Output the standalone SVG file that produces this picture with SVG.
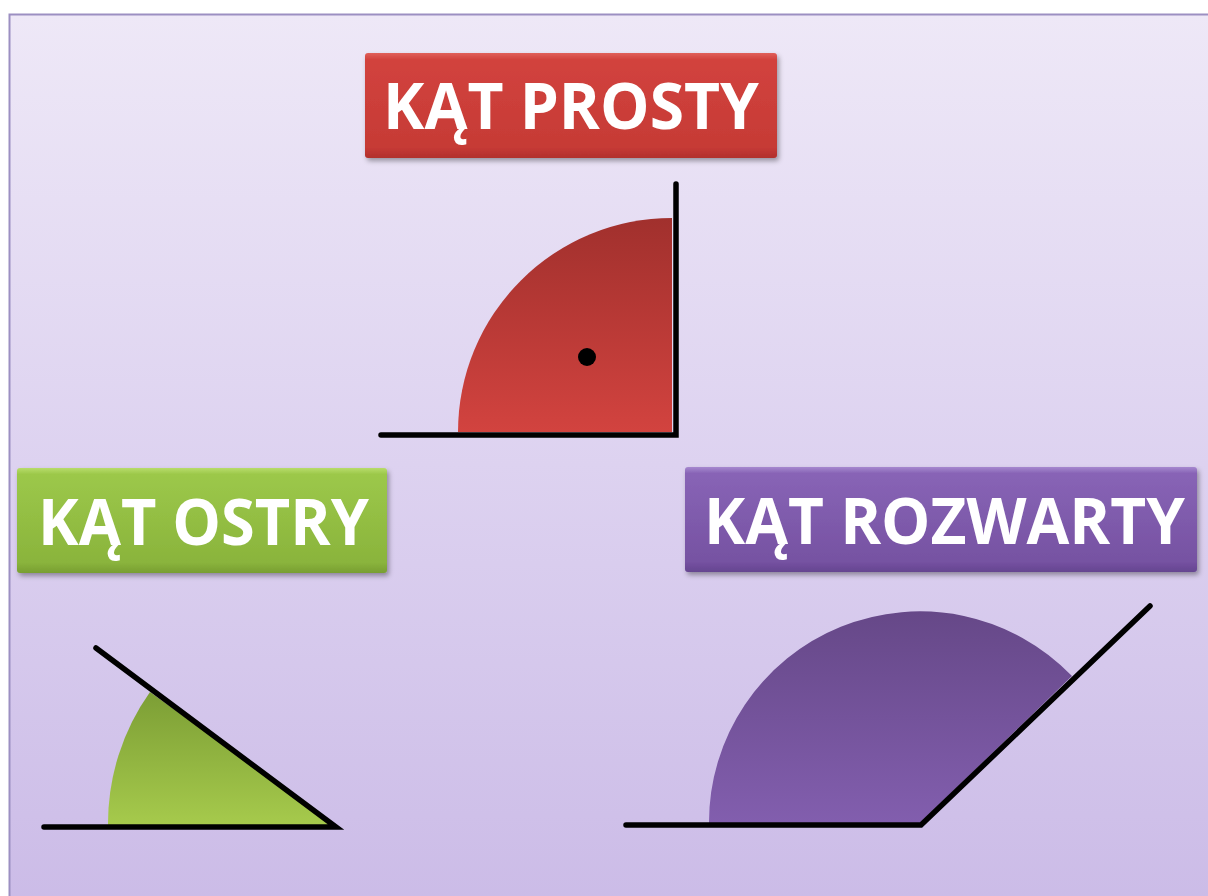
<svg xmlns="http://www.w3.org/2000/svg" width="1208" height="896" viewBox="0 0 1208 896">
<defs>
<linearGradient id="bg" x1="0" y1="0" x2="0" y2="1">
<stop offset="0" stop-color="#eee8f7"/>
<stop offset="0.5" stop-color="#ddd2f0"/>
<stop offset="1" stop-color="#cbbbe7"/>
</linearGradient>
<linearGradient id="gRedBox" x1="0" y1="0" x2="0" y2="1">
<stop offset="0" stop-color="#e0605a"/>
<stop offset="0.06" stop-color="#d2433e"/>
<stop offset="0.9" stop-color="#c63a35"/>
<stop offset="1" stop-color="#b1302c"/>
</linearGradient>
<linearGradient id="gGreenBox" x1="0" y1="0" x2="0" y2="1">
<stop offset="0" stop-color="#b8dc6a"/>
<stop offset="0.06" stop-color="#9cc84a"/>
<stop offset="0.9" stop-color="#8ab43c"/>
<stop offset="1" stop-color="#789e32"/>
</linearGradient>
<linearGradient id="gPurpleBox" x1="0" y1="0" x2="0" y2="1">
<stop offset="0" stop-color="#a688cf"/>
<stop offset="0.06" stop-color="#8864b6"/>
<stop offset="0.9" stop-color="#7652a2"/>
<stop offset="1" stop-color="#654590"/>
</linearGradient>
<linearGradient id="gRed" x1="0" y1="0" x2="0" y2="1">
<stop offset="0" stop-color="#a1302d"/>
<stop offset="1" stop-color="#d2433f"/>
</linearGradient>
<linearGradient id="gGreen" x1="0" y1="0" x2="0" y2="1">
<stop offset="0" stop-color="#7c9e35"/>
<stop offset="1" stop-color="#a6ca4c"/>
</linearGradient>
<linearGradient id="gPurple" x1="0" y1="0" x2="0" y2="1">
<stop offset="0" stop-color="#664888"/>
<stop offset="1" stop-color="#825eae"/>
</linearGradient>
<filter id="sh" x="-10%" y="-20%" width="120%" height="150%">
<feDropShadow dx="2" dy="3" stdDeviation="2.5" flood-color="#000" flood-opacity="0.35"/>
</filter>
</defs>
<style>
.lbl{font-family:"Open Sans","Liberation Sans",sans-serif;font-weight:700;font-size:65px;fill:#ffffff}
.ray{fill:none;stroke:#000;stroke-width:5.5;stroke-linejoin:miter;stroke-linecap:round}
</style>
<rect x="0" y="0" width="1208" height="896" fill="#ffffff"/>
<rect x="9.5" y="14.5" width="1210" height="900" fill="url(#bg)" stroke="#9c8fc2" stroke-width="2"/>

<g id="prosty">
<g id="prosty-label" filter="url(#sh)">
<rect x="365" y="53" width="412" height="105" rx="3" fill="url(#gRedBox)"/>
<text class="lbl" x="383" y="129" textLength="376" lengthAdjust="spacingAndGlyphs">KĄT PROSTY</text>
</g>
<path d="M672 432 L458 432 A214 214 0 0 1 672 218 Z" fill="url(#gRed)"/>
<circle cx="587" cy="357" r="9" fill="#000"/>
<polyline class="ray" points="381,435 676,435 676,184"/>
</g>

<g id="ostry">
<g id="ostry-label" filter="url(#sh)">
<rect x="17" y="468" width="370" height="105" rx="3" fill="url(#gGreenBox)"/>
<text class="lbl" x="38" y="545" textLength="331" lengthAdjust="spacingAndGlyphs">KĄT OSTRY</text>
</g>
<path d="M335 825 L108 825 A227 227 0 0 1 150 692 Z" fill="url(#gGreen)"/>
<polyline class="ray" points="44,827 336,827 96,648"/>
</g>

<g id="rozwarty">
<g id="rozwarty-label" filter="url(#sh)">
<rect x="685" y="467" width="512" height="105" rx="3" fill="url(#gPurpleBox)"/>
<text class="lbl" x="704" y="544" textLength="481" lengthAdjust="spacingAndGlyphs">KĄT ROZWARTY</text>
</g>
<path d="M920 823 L709 823 A211 211 0 0 1 1072 676 Z" fill="url(#gPurple)"/>
<polyline class="ray" points="626,825 921,825 1150,606"/>
</g>
</svg>
